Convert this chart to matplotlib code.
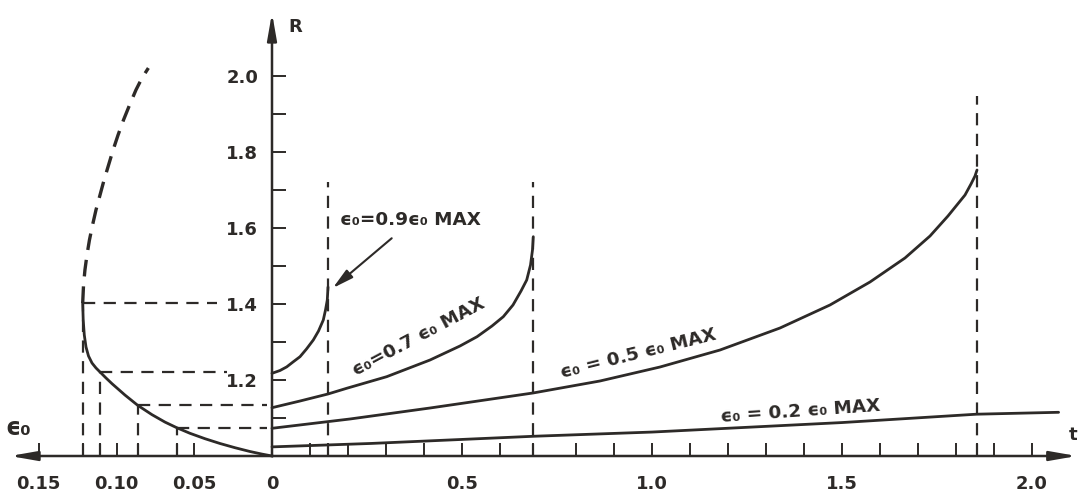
import matplotlib
matplotlib.use("Agg")
import matplotlib.pyplot as plt
from matplotlib.ticker import FixedLocator, FixedFormatter

# ---------------- data ----------------
# growth curves R(t) for several initial strains
t_09 = [0.0, 0.0211, 0.0387, 0.0553, 0.0737, 0.0908, 0.1087, 0.1224, 0.135, 0.1408, 0.1455, 0.1474]
R_09 = [1.2176, 1.225, 1.2345, 1.2474, 1.2613, 1.2816, 1.3053, 1.3289, 1.3579, 1.3842, 1.4105, 1.4447]

t_07 = [0.0, 0.0737, 0.1474, 0.1966, 0.3018, 0.4158, 0.4947, 0.5395, 0.5789, 0.6087,
        0.6342, 0.6553, 0.6703, 0.6803, 0.6855, 0.6876]
R_07 = [1.1271, 1.1447, 1.1632, 1.1782, 1.2087, 1.2526, 1.2895, 1.3139, 1.3421, 1.3666,
        1.3974, 1.4342, 1.4632, 1.5026, 1.5421, 1.5771]

t_05 = [0.0, 0.2053, 0.4158, 0.6868, 0.8632, 1.0211, 1.1789, 1.3368, 1.4684, 1.5737,
        1.6658, 1.7316, 1.7789, 1.8237, 1.8395, 1.85, 1.8553]
R_05 = [1.0729, 1.0974, 1.1263, 1.1658, 1.1974, 1.2342, 1.2789, 1.3368, 1.3974, 1.4579,
        1.5211, 1.5789, 1.6316, 1.6868, 1.7158, 1.7368, 1.7526]

t_02 = [0.0, 0.26, 0.69, 1.0, 1.5, 1.854, 2.07]
R_02 = [1.024, 1.033, 1.052, 1.063, 1.088, 1.110, 1.115]

# left branch R(eps0): solid part and dashed continuation
eps_solid = [0.0, 0.00643, 0.01415, 0.02379, 0.03344, 0.04309, 0.05273, 0.06129, 0.06881,
             0.07717, 0.08637, 0.09453, 0.10289, 0.10675, 0.11061, 0.11318, 0.11576,
             0.11801, 0.11961, 0.12071, 0.12141, 0.12174]
R_solid = [1.0, 1.005, 1.0118, 1.0218, 1.0329, 1.0455, 1.0597, 1.0745, 1.0892,
           1.1087, 1.1334, 1.1603, 1.1903, 1.2053, 1.2211, 1.2316, 1.2447,
           1.2632, 1.2868, 1.3184, 1.3579, 1.4026]
eps_dash = [0.12174, 0.1212, 0.1203, 0.119, 0.1174, 0.1154, 0.1132, 0.1106, 0.108, 0.1051,
            0.1022, 0.099, 0.0955, 0.0916, 0.0875, 0.0836, 0.0795]
R_dash = [1.4026, 1.45, 1.4895, 1.5289, 1.5684, 1.6079, 1.6474, 1.6868, 1.7263, 1.7658,
          1.8053, 1.8447, 1.8842, 1.9237, 1.9632, 1.9947, 2.021]

# construction (guide) lines
guide_eps = [0.12174, 0.11061, 0.08637, 0.06129]
guide_R = [1.4026, 1.2211, 1.1334, 1.0745]
guide_end = [0.0356, 0.029, 0.003, 0.003]
t_limits = [0.147, 0.688, 1.854]
t_limit_top = [1.72, 1.72, 1.947]

# ticks
t_ticks = [0.0, 0.1, 0.147, 0.2, 0.3, 0.4, 0.5, 0.6, 0.688, 0.8, 0.9, 1.0, 1.1, 1.2,
           1.3, 1.4, 1.5, 1.6, 1.7, 1.8, 1.854, 1.9, 2.0]
t_labels = {0.0: "0", 0.5: "0.5", 1.0: "1.0", 1.5: "1.5", 2.0: "2.0"}
eps_ticks = [0.15, 0.12174, 0.11061, 0.10, 0.08637, 0.06129, 0.05]
eps_labels = {0.15: "0.15", 0.10: "0.10", 0.05: "0.05"}
R_ticks = [1.1, 1.2, 1.3, 1.4, 1.5, 1.6, 1.7, 1.8, 1.9, 2.0]
R_labels = {1.2: "1.2", 1.4: "1.4", 1.6: "1.6", 1.8: "1.8", 2.0: "2.0"}

# ---------------- figure ----------------
INK = "#2d2a28"
plt.rcParams["font.family"] = ["DejaVu Sans"]
W, H = 1078, 494
X0 = 272
fig = plt.figure(figsize=(W / 100, H / 100), dpi=100)
fig.patch.set_facecolor("white")

axL = fig.add_axes([0, 0, X0 / W, 1])
axR = fig.add_axes([X0 / W, 0, (W - X0) / W, 1])
R_LO, R_HI = 0.9, 2.2
axL.set_xlim(X0 / 1555, 0)
axR.set_xlim(0, (W - X0) / 380)
for ax in (axL, axR):
    ax.set_ylim(R_LO, R_HI)
    ax.patch.set_visible(False)
    for s in ax.spines.values():
        s.set_visible(False)
    ax.spines["bottom"].set_position(("data", 1.0))

FS = 13
WT = "bold"
# t axis ticks
axR.xaxis.set_major_locator(FixedLocator(t_ticks))
axR.xaxis.set_major_formatter(FixedFormatter([t_labels.get(v, "") for v in t_ticks]))
axR.tick_params(axis="x", direction="in", length=9.5, width=1.4, color=INK,
                pad=14, labelsize=FS, labelcolor=INK)
# eps axis ticks
axL.xaxis.set_major_locator(FixedLocator(eps_ticks))
axL.xaxis.set_major_formatter(FixedFormatter([eps_labels.get(v, "") for v in eps_ticks]))
axL.tick_params(axis="x", direction="in", length=9.5, width=1.4, color=INK,
                pad=14, labelsize=FS, labelcolor=INK)
axL.set_yticks([])
# R axis ticks
axR.yaxis.set_major_locator(FixedLocator(R_ticks))
axR.yaxis.set_major_formatter(FixedFormatter([R_labels.get(v, "") for v in R_ticks]))
axR.tick_params(axis="y", direction="in", length=10, width=1.4, color=INK,
                pad=10, labelsize=FS, labelcolor=INK)
for lab in axR.get_xticklabels() + axR.get_yticklabels() + axL.get_xticklabels():
    lab.set_fontweight(WT)

# axis lines with arrows
ahead = dict(arrowstyle="-|>,head_length=1.6,head_width=0.28", lw=1.8,
             color=INK, mutation_scale=10, shrinkA=0, shrinkB=0)
axR.annotate("", xy=(2.118, 1.0), xytext=(0, 1.0), arrowprops=ahead,
             annotation_clip=False)
axL.annotate("", xy=(0.1685, 1.0), xytext=(0, 1.0), arrowprops=ahead,
             annotation_clip=False)
axR.annotate("", xy=(0, 2.166), xytext=(0, 1.0), arrowprops=ahead,
             annotation_clip=False)

# curves
lw = 2.0
for tt, rr in ((t_09, R_09), (t_07, R_07), (t_05, R_05), (t_02, R_02)):
    axR.plot(tt, rr, color=INK, lw=lw, solid_capstyle="round",
             solid_joinstyle="round", clip_on=False)
axL.plot(eps_solid, R_solid, color=INK, lw=lw, solid_joinstyle="round", clip_on=False)
axL.plot(eps_dash, R_dash, color=INK, lw=2.4, linestyle=(0, (5, 3)), clip_on=False)

dash = (0, (5.5, 3.8))
# vertical limits in t
for tv, top in zip(t_limits, t_limit_top):
    axR.plot([tv, tv], [1.0, top], color=INK, lw=1.6, linestyle=dash)
# guide lines on the left
for e, r, e_end in zip(guide_eps, guide_R, guide_end):
    axL.plot([e, e_end], [r, r], color=INK, lw=1.6, linestyle=dash)
    axL.plot([e, e], [1.0, r], color=INK, lw=1.6, linestyle=dash)

# labels
tk = dict(color=INK, fontsize=13.2, fontweight=WT)
axR.text(0.179, 1.622, "ϵ₀=0.9ϵ₀ MAX", ha="left", va="center", **tk)
axR.annotate("", xy=(0.16, 1.442), xytext=(0.315, 1.573),
             arrowprops=dict(arrowstyle="-|>,head_length=0.9,head_width=0.22",
                             lw=1.5, color=INK, mutation_scale=14,
                             shrinkA=0, shrinkB=0))
axR.text(0.387, 1.312, "ϵ₀=0.7 ϵ₀ MAX", rotation=28, ha="center", va="center",
         rotation_mode="anchor", **tk)
axR.text(0.963, 1.268, "ϵ₀ = 0.5 ϵ₀ MAX", rotation=14, ha="center", va="center",
         rotation_mode="anchor", **tk)
axR.text(1.39, 1.118, "ϵ₀ = 0.2 ϵ₀ MAX", rotation=4, ha="center", va="center",
         rotation_mode="anchor", **tk)

axR.text(0.06, 2.128, "R", ha="center", va="center", color=INK, fontsize=13, fontweight=WT)
axR.text(2.108, 1.055, "t", ha="center", va="center", color=INK, fontsize=13, fontweight=WT)
axL.text(0.1633, 1.074, "ϵ₀", ha="center", va="center", color=INK, fontsize=17,
         fontweight=WT)

fig.savefig("out.png", dpi=100, facecolor="white")
